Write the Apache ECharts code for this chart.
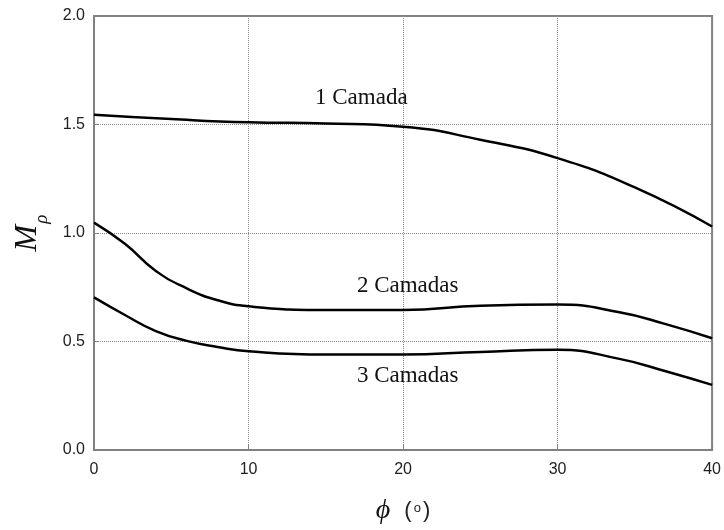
<!DOCTYPE html>
<html>
<head>
<meta charset="utf-8">
<script src="https://cdn.jsdelivr.net/npm/echarts@6/dist/echarts.min.js"></script>
<style>
  html, body { margin: 0; padding: 0; background: #fff; }
  #chart { width: 724px; height: 530px; }
</style>
</head>
<body>
<div id="chart"></div>
<script>
// phi (degrees) and M_rho for each number of layers
const phi1 = [0, 5, 10, 15, 20, 25, 30, 35, 40]
const camada1 = [1.545, 1.525, 1.51, 1.505, 1.49, 1.43, 1.345, 1.21, 1.03]

const phi2 = [0, 2, 4, 6, 8, 10, 15, 20, 25, 30, 34, 37, 40]
const camada2 = [1.048, 0.95, 0.825, 0.745, 0.69, 0.662, 0.645, 0.645, 0.665, 0.67, 0.635, 0.58, 0.515]

const phi3 = [0, 2, 4, 6, 8, 10, 15, 20, 25, 30, 34, 37, 40]
const camada3 = [0.703, 0.622, 0.548, 0.503, 0.475, 0.455, 0.44, 0.44, 0.452, 0.462, 0.42, 0.363, 0.30]

const yTicks = ['0.0', '0.5', '1.0', '1.5', '2.0']

// curve labels, placed in data coordinates
const labels = [
  { text: '1 Camada', coord: [17.3, 1.623] },
  { text: '2 Camadas', coord: [20.3, 0.754] },
  { text: '3 Camadas', coord: [20.3, 0.34] }
]

const pairs = (xs, ys) => xs.map((x, i) => [x, ys[i]])

const chart = echarts.init(document.getElementById('chart'))

const lineSeries = (name, data, label) => ({
  name: name,
  type: 'line',
  data: data,
  smooth: 0.5,
  symbol: 'none',
  lineStyle: { color: '#000', width: 2.5 },
  markPoint: {
    symbol: 'circle',
    symbolSize: 0,
    label: {
      show: true,
      position: 'inside',
      formatter: label.text,
      fontFamily: '"Liberation Serif", "Times New Roman", serif',
      fontSize: 23,
      color: '#111'
    },
    data: [{ coord: label.coord }]
  },
  animation: false
})

chart.setOption({
  animation: false,
  grid: {
    left: 94,
    right: 10,
    top: 16,
    bottom: 79,
    show: true,
    borderColor: '#808080',
    borderWidth: 2
  },
  xAxis: {
    type: 'value',
    min: 0,
    max: 40,
    interval: 10,
    name: '{phi|ϕ}{sp| }{p|(}{o|o}{p|)}',
    nameLocation: 'middle',
    nameGap: 47,
    nameTextStyle: {
      rich: {
        phi: { fontFamily: '"Liberation Serif", serif', fontStyle: 'italic', fontSize: 28, color: '#111' },
        sp: { fontSize: 14, width: 14 },
        p: { fontFamily: '"Liberation Sans", Arial, sans-serif', fontSize: 22, color: '#222' },
        o: { fontFamily: '"Liberation Sans", Arial, sans-serif', fontSize: 13, color: '#222', padding: [0, 2, 6, 2] }
      }
    },
    axisLine: { show: true, lineStyle: { color: '#808080', width: 2 } },
    axisTick: { show: true, inside: true, length: 5, lineStyle: { color: '#808080' } },
    axisLabel: {
      margin: 12,
      fontFamily: '"Liberation Sans", Arial, sans-serif',
      fontSize: 16,
      color: '#222'
    },
    splitLine: { show: true, lineStyle: { type: 'dotted', color: '#888', width: 1 } }
  },
  yAxis: {
    type: 'value',
    min: 0,
    max: 2,
    interval: 0.5,
    name: '{m|M}{s|ρ}',
    nameLocation: 'middle',
    nameRotate: 90,
    nameGap: 50,
    nameTextStyle: {
      rich: {
        m: { fontFamily: '"Liberation Serif", serif', fontStyle: 'italic', fontSize: 32, color: '#111' },
        s: { fontFamily: '"Liberation Serif", serif', fontStyle: 'italic', fontSize: 19, color: '#111', verticalAlign: 'bottom', padding: [0, 0, -8, 1] }
      }
    },
    axisLine: { show: true, lineStyle: { color: '#808080', width: 2 } },
    axisTick: { show: true, inside: true, length: 5, lineStyle: { color: '#808080' } },
    axisLabel: {
      margin: 9,
      fontFamily: '"Liberation Sans", Arial, sans-serif',
      fontSize: 16,
      color: '#222',
      formatter: (v) => yTicks[Math.round(v / 0.5)]
    },
    splitLine: { show: true, lineStyle: { type: 'dotted', color: '#888', width: 1 } }
  },
  series: [
    lineSeries('1 Camada', pairs(phi1, camada1), labels[0]),
    lineSeries('2 Camadas', pairs(phi2, camada2), labels[1]),
    lineSeries('3 Camadas', pairs(phi3, camada3), labels[2])
  ]
})
</script>
</body>
</html>
